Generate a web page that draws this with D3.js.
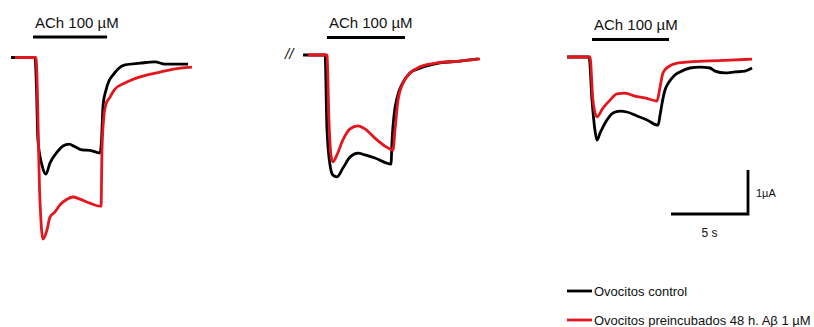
<!DOCTYPE html>
<html>
<head>
<meta charset="utf-8">
<script src="https://cdn.jsdelivr.net/npm/d3@7/dist/d3.min.js"></script>
<style>
  html, body { margin: 0; padding: 0; background: #fff; }
  svg { display: block; font-family: "Liberation Sans", Arial, sans-serif; }
</style>
</head>
<body>
<svg id="chart" width="814" height="327"></svg>
<script>
// ---- Data: time (s, relative to ACh onset) and current (µA, relative to baseline) ----
const p1Control = [[-1.56,0],[0,0],[0.1,-0.74],[0.19,-1.88],[0.45,-2.44],[0.71,-2.65],[0.97,-2.40],[1.43,-2.15],[1.82,-2.01],[2.21,-1.97],[2.60,-2.03],[3.05,-2.10],[3.57,-2.11],[4.22,-2.17],[4.32,-1.88],[4.42,-1.08],[4.61,-0.74],[4.81,-0.53],[5.06,-0.40],[5.39,-0.26],[5.84,-0.17],[6.82,-0.13],[7.79,-0.10],[8.44,-0.15],[9.42,-0.15],[9.94,-0.15]];
const p1Abeta = [[-1.30,0],[0.06,0],[0.32,-3.24],[0.52,-4.13],[0.78,-3.92],[0.97,-3.63],[1.30,-3.51],[1.62,-3.35],[2.08,-3.22],[2.47,-3.17],[2.92,-3.22],[3.57,-3.31],[4.22,-3.38],[4.29,-3.38],[4.35,-2.10],[4.48,-1.31],[4.61,-1.06],[4.87,-0.90],[5.19,-0.72],[5.84,-0.58],[6.82,-0.44],[8.12,-0.33],[9.42,-0.24],[10.19,-0.22]];
const p2Control = [[-1.49,0],[-0.06,0],[0.06,-1.66],[0.26,-2.50],[0.45,-2.73],[0.71,-2.77],[1.10,-2.57],[1.56,-2.32],[2.08,-2.23],[2.53,-2.27],[3.18,-2.34],[3.90,-2.45],[4.22,-2.48],[4.29,-1.93],[4.42,-1.36],[4.61,-0.98],[4.94,-0.66],[5.45,-0.41],[6.10,-0.30],[7.40,-0.18],[8.70,-0.14],[9.87,-0.09]];
const p2Abeta = [[-1.17,0],[0.06,0],[0.19,-1.48],[0.32,-2.27],[0.45,-2.43],[0.71,-2.27],[1.10,-1.93],[1.56,-1.68],[2.08,-1.61],[2.53,-1.68],[3.18,-1.89],[3.83,-2.07],[4.35,-2.16],[4.48,-1.70],[4.68,-1.02],[5.00,-0.64],[5.45,-0.41],[6.10,-0.27],[7.21,-0.18],[8.70,-0.14],[10.0,-0.09]];
const p3Control = [[-1.49,0],[-0.06,0],[0.13,-0.98],[0.32,-1.66],[0.45,-1.89],[0.65,-1.73],[1.10,-1.43],[1.49,-1.27],[1.95,-1.23],[2.40,-1.25],[3.05,-1.34],[3.70,-1.43],[4.42,-1.55],[4.55,-1.32],[4.68,-1.05],[4.87,-0.75],[5.13,-0.57],[5.45,-0.43],[5.84,-0.34],[6.49,-0.25],[7.14,-0.23],[7.79,-0.25],[8.12,-0.32],[8.77,-0.36],[9.42,-0.34],[10.06,-0.32],[10.52,-0.25]];
const p3Abeta = [[-1.49,0],[0,0],[0.19,-0.98],[0.45,-1.36],[0.84,-1.16],[1.30,-0.98],[1.75,-0.84],[2.27,-0.82],[2.92,-0.89],[3.57,-0.93],[4.35,-1.00],[4.55,-0.68],[4.74,-0.36],[5.06,-0.23],[5.65,-0.14],[6.49,-0.11],[7.79,-0.09],[9.09,-0.07],[10.52,-0.05]];

// ACh application windows (s) per panel
const achStart = [-0.13, 0.06, 0.13];
const achEnd = [4.68, 5.13, 5.13];
const achLabel = "ACh 100 \u00B5M";

// Scale bar values
const scaleTime = 5;      // s
const scaleCurrent = 1;   // µA
const scaleTimeLabel = "5 s";
const scaleCurrentLabel = "1\u00B5A";

// Legend
const seriesNames = ["Ovocitos control", "Ovocitos preincubados 48 h. A\u03B2 1 \u00B5M"];
const seriesColors = ["#000000", "#e3161d"];

// ---- Layout ----
const pxPerSec = 15.4, pxPerUA = 44;
const panelOrigins = [{x:35, y:57.5}, {x:326, y:55}, {x:590, y:57}];
const panels = [
  {control: p1Control, abeta: p1Abeta},
  {control: p2Control, abeta: p2Abeta},
  {control: p3Control, abeta: p3Abeta}
];

const svg = d3.select("#chart");

panels.forEach((p, i) => {
  const o = panelOrigins[i];
  const x = d3.scaleLinear().domain([0, 1]).range([o.x, o.x + pxPerSec]);
  const y = d3.scaleLinear().domain([0, -1]).range([o.y, o.y + pxPerUA]);
  const line = d3.line().x(d => x(d[0])).y(d => y(d[1])).curve(d3.curveMonotoneX);
  const g = svg.append("g");
  [p.control, p.abeta].forEach((data, k) => {
    g.append("path").attr("d", line(data))
      .attr("fill", "none").attr("stroke", seriesColors[k])
      .attr("stroke-width", 2.8).attr("stroke-linejoin", "round").attr("stroke-linecap", "butt");
  });
  // ACh bar
  const barY = o.y - 20.5 + (i === 2 ? 3 : (i === 1 ? 3 : 0));
  g.append("line").attr("x1", x(achStart[i])).attr("x2", x(achEnd[i]))
    .attr("y1", barY).attr("y2", barY).attr("stroke", "#000").attr("stroke-width", 2.8);
  g.append("text").attr("x", x(achStart[i]) + 2).attr("y", barY - 9.5)
    .attr("font-size", 15).attr("fill", "#111").text(achLabel);
});

// break marker in panel 2
svg.append("text").attr("x", 285).attr("y", 59).attr("font-size", 15)
  .attr("font-style", "italic").attr("fill", "#111").text("//");

// Scale bar
const sx = d3.scaleLinear().domain([0, 1]).range([0, pxPerSec]);
const sy = d3.scaleLinear().domain([0, 1]).range([0, pxPerUA]);
const cornerX = 748, cornerY = 214;
svg.append("path")
  .attr("d", `M${cornerX - sx(scaleTime)},${cornerY}H${cornerX}V${cornerY - sy(scaleCurrent)}`)
  .attr("fill", "none").attr("stroke", "#000").attr("stroke-width", 2.8);
svg.append("text").attr("x", cornerX - sx(scaleTime) / 2).attr("y", 237)
  .attr("text-anchor", "middle").attr("font-size", 12).attr("fill", "#111").text(scaleTimeLabel);
svg.append("text").attr("x", 756).attr("y", 197)
  .attr("font-size", 11).attr("fill", "#111").text(scaleCurrentLabel);

// Legend
const legY = [291, 320];
seriesNames.forEach((name, k) => {
  svg.append("line").attr("x1", 567).attr("x2", 592).attr("y1", legY[k]).attr("y2", legY[k])
    .attr("stroke", seriesColors[k]).attr("stroke-width", 2.8);
  svg.append("text").attr("x", 594).attr("y", legY[k] + 4.5)
    .attr("font-size", 13).attr("fill", "#111").text(name);
});
</script>
</body>
</html>
